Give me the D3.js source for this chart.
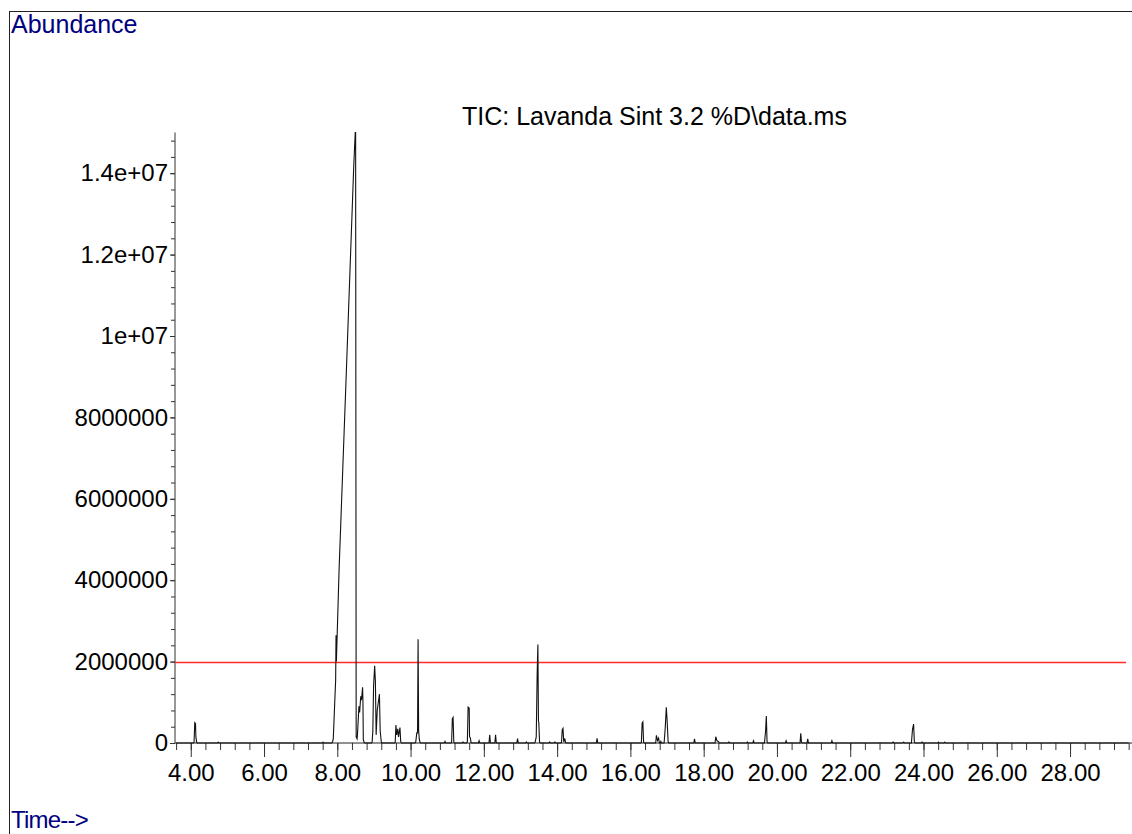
<!DOCTYPE html>
<html>
<head>
<meta charset="utf-8">
<title>TIC: Lavanda Sint 3.2</title>
<script src="https://cdn.jsdelivr.net/npm/d3@7"></script>
<style>
  body { margin: 0; background: #fff; }
  svg { display: block; font-family: "Liberation Sans", Arial, sans-serif; }
</style>
</head>
<body>
<svg id="chart" width="1132" height="834"></svg>
<script>
// chromatogram title + axis captions
const titleText = 'TIC: Lavanda Sint 3.2 %D\\data.ms';
const yCaption = 'Abundance';
const xCaption = 'Time-->';

// tick values / labels (as printed by the instrument software)
const xMajorTicks = [4, 6, 8, 10, 12, 14, 16, 18, 20, 22, 24, 26, 28];
const xTickLabels = ['4.00', '6.00', '8.00', '10.00', '12.00', '14.00', '16.00', '18.00', '20.00', '22.00', '24.00', '26.00', '28.00'];
const yMajorTicks = [0, 2000000, 4000000, 6000000, 8000000, 10000000, 12000000, 14000000];
const yTickLabels = ['0', '2000000', '4000000', '6000000', '8000000', '1e+07', '1.2e+07', '1.4e+07'];

// threshold line drawn in red
const thresholdLevel = [2000000];

// total ion current trace: [retention time (min), abundance]
const ticTrace = [
  [3.60, 0],
  [4.07, 0], [4.09, 20000], [4.11, 500000], [4.13, 480000], [4.14, 150000], [4.16, 20000], [4.18, 0],
  [4.73, 0], [4.75, 20000], [4.77, 0],
  [7.59, 0], [7.61, 20000], [7.63, 0],
  [7.85, 0], [7.87, 30000], [7.89, 100000], [7.93, 1000000], [7.955, 1550000], [7.965, 2650000], [7.975, 2000000],
  [8.05, 4300000], [8.15, 6750000], [8.25, 9200000], [8.35, 11700000], [8.45, 14200000], [8.49, 15000000], [8.50, 15000000],
  [8.515, 150000], [8.54, 100000], [8.55, 200000], [8.59, 900000], [8.61, 750000], [8.64, 1150000], [8.66, 1050000],
  [8.69, 1370000], [8.70, 1000000], [8.71, 80000], [8.73, 20000], [8.75, 0],
  [8.93, 0], [8.95, 20000], [8.97, 300000], [8.99, 1400000], [9.02, 1900000], [9.04, 1500000], [9.06, 200000],
  [9.09, 800000], [9.12, 1000000], [9.15, 1200000], [9.17, 300000], [9.20, 30000], [9.22, 0],
  [9.56, 0], [9.58, 20000], [9.60, 440000], [9.62, 200000], [9.65, 350000], [9.67, 150000], [9.71, 380000], [9.73, 40000], [9.75, 0],
  [10.12, 0], [10.14, 20000], [10.17, 250000], [10.19, 250000], [10.205, 2550000], [10.22, 300000], [10.24, 80000], [10.26, 10000], [10.28, 0],
  [10.92, 0], [10.94, 40000], [10.96, 0],
  [11.11, 0], [11.12, 20000], [11.14, 600000], [11.16, 630000], [11.18, 20000], [11.20, 0],
  [11.41, 0], [11.43, 25000], [11.45, 0],
  [11.53, 0], [11.55, 30000], [11.57, 880000], [11.60, 860000], [11.61, 150000], [11.63, 130000], [11.65, 20000], [11.67, 0],
  [11.85, 0], [11.87, 55000], [11.89, 0],
  [12.14, 0], [12.16, 200000], [12.18, 0],
  [12.30, 0], [12.32, 200000], [12.34, 0],
  [12.90, 0], [12.92, 110000], [12.94, 0],
  [13.14, 0], [13.16, 25000], [13.18, 0],
  [13.38, 0], [13.40, 20000], [13.43, 150000], [13.455, 1700000], [13.475, 2420000], [13.49, 550000], [13.50, 500000], [13.52, 30000], [13.54, 0],
  [13.78, 0], [13.80, 25000], [13.82, 0],
  [13.92, 0], [13.94, 25000], [13.96, 0],
  [14.10, 0], [14.12, 20000], [14.14, 330000], [14.16, 360000], [14.18, 30000], [14.21, 110000], [14.23, 10000], [14.25, 0],
  [15.07, 0], [15.09, 115000], [15.11, 0],
  [16.28, 0], [16.30, 20000], [16.32, 490000], [16.34, 520000], [16.36, 20000], [16.38, 0],
  [16.69, 0], [16.71, 190000], [16.74, 60000], [16.77, 120000], [16.79, 0],
  [16.81, 0], [16.83, 40000], [16.85, 0],
  [16.92, 0], [16.95, 360000], [16.98, 876000], [17.00, 590000], [17.03, 30000], [17.05, 0],
  [17.73, 0], [17.75, 105000], [17.77, 0],
  [18.31, 0], [18.33, 155000], [18.36, 60000], [18.41, 30000], [18.43, 0],
  [18.67, 0], [18.69, 25000], [18.71, 0],
  [19.17, 0], [19.19, 25000], [19.21, 0],
  [19.34, 0], [19.36, 56000], [19.38, 0],
  [19.66, 0], [19.69, 300000], [19.71, 660000], [19.73, 30000], [19.75, 0],
  [20.23, 0], [20.25, 56000], [20.27, 0],
  [20.63, 0], [20.65, 240000], [20.67, 20000], [20.69, 0],
  [20.82, 0], [20.84, 105000], [20.86, 0],
  [21.48, 0], [21.50, 56000], [21.52, 0],
  [23.15, 0], [23.17, 25000], [23.19, 0],
  [23.44, 0], [23.46, 20000], [23.48, 0],
  [23.67, 0], [23.70, 336000], [23.73, 466000], [23.75, 30000], [23.77, 0],
  [23.94, 0], [23.96, 25000], [23.98, 0],
  [24.39, 0], [24.41, 20000], [24.43, 0],
  [24.56, 0], [24.58, 20000], [24.60, 0],
  [29.60, 0]
];

const svg = d3.select('#chart');
const W = 1132, H = 834;

// plot box
const plotLeft = 175, plotRight = 1130.5, plotTop = 132.5, plotBottom = 743;

const x = d3.scaleLinear().domain([3.57, 29.65]).range([plotLeft, plotRight]);
const y = d3.scaleLinear().domain([0, 15000000]).range([plotBottom, plotTop]);

// outer frame
svg.append('rect')
  .attr('x', 9.5).attr('y', 11.5)
  .attr('width', W).attr('height', H)
  .attr('fill', 'none')
  .attr('stroke', '#222')
  .attr('stroke-width', 1);

// captions
svg.append('text')
  .attr('x', 11).attr('y', 33)
  .attr('font-size', 25)
  .attr('fill', '#000080')
  .text(yCaption);

svg.append('text')
  .attr('x', 11).attr('y', 828)
  .attr('font-size', 24)
  .attr('fill', '#000080')
  .attr('letter-spacing', -0.8)
  .text(xCaption);

svg.append('text')
  .attr('x', 462).attr('y', 125)
  .attr('font-size', 25)
  .attr('fill', '#000')
  .text(titleText);

// y axis
const yMinor = d3.range(0, 15000001, 400000);
const yAxisMinor = d3.axisLeft(y).tickValues(yMinor).tickSize(4).tickFormat('');
const yAxis = d3.axisLeft(y)
  .tickValues(yMajorTicks)
  .tickSize(5)
  .tickFormat((d, i) => yTickLabels[i]);

svg.append('g')
  .attr('transform', `translate(${plotLeft},0)`)
  .call(yAxisMinor)
  .call(g => g.select('.domain').remove())
  .call(g => g.selectAll('line').attr('stroke', '#333'));

svg.append('g')
  .attr('transform', `translate(${plotLeft},0)`)
  .call(yAxis)
  .call(g => g.select('.domain').remove())
  .call(g => g.selectAll('line').attr('stroke', '#333'))
  .call(g => g.selectAll('text')
    .attr('font-size', 24)
    .attr('font-family', '"Liberation Sans", Arial, sans-serif')
    .attr('fill', '#000')
    .attr('x', -7));

svg.append('line')
  .attr('x1', plotLeft).attr('x2', plotLeft)
  .attr('y1', plotTop).attr('y2', plotBottom)
  .attr('stroke', '#333');

// x axis
const xMinor = d3.range(3.6, 29.61, 0.4);
const xAxisMinor = d3.axisBottom(x).tickValues(xMinor).tickSize(7).tickFormat('');
const xAxis = d3.axisBottom(x)
  .tickValues(xMajorTicks)
  .tickSize(14)
  .tickFormat((d, i) => xTickLabels[i]);

svg.append('g')
  .attr('transform', `translate(0,${plotBottom})`)
  .call(xAxisMinor)
  .call(g => g.select('.domain').remove())
  .call(g => g.selectAll('line').attr('stroke', '#333'));

svg.append('g')
  .attr('transform', `translate(0,${plotBottom})`)
  .call(xAxis)
  .call(g => g.select('.domain').remove())
  .call(g => g.selectAll('line').attr('stroke', '#333'))
  .call(g => g.selectAll('text')
    .attr('font-size', 24)
    .attr('font-family', '"Liberation Sans", Arial, sans-serif')
    .attr('fill', '#000')
    .attr('y', 21));

svg.append('line')
  .attr('x1', plotLeft).attr('x2', W)
  .attr('y1', plotBottom).attr('y2', plotBottom)
  .attr('stroke', '#222');

// red threshold line
svg.selectAll('.threshold')
  .data(thresholdLevel)
  .enter()
  .append('line')
  .attr('class', 'threshold')
  .attr('x1', plotLeft).attr('x2', 1126)
  .attr('y1', d => Math.round(y(d)) + 0.5).attr('y2', d => Math.round(y(d)) + 0.5)
  .attr('stroke', '#ff2a2a')
  .attr('stroke-width', 1.3);

// TIC trace
const line = d3.line()
  .x(d => x(d[0]))
  .y(d => y(d[1]));

svg.append('path')
  .datum(ticTrace)
  .attr('d', line)
  .attr('fill', 'none')
  .attr('stroke', '#111')
  .attr('stroke-width', 1.1);
</script>
</body>
</html>
